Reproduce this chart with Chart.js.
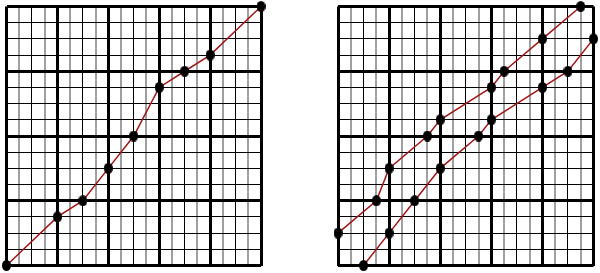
<!DOCTYPE html>
<html>
<head>
<meta charset="utf-8">
<script src="https://cdn.jsdelivr.net/npm/chart.js@4"></script>
<style>
  body { margin: 0; background: #fff; }
  .box { position: absolute; top: 0; width: 300px; height: 273px; }
</style>
</head>
<body>
<div class="box" style="left:0"><canvas id="chart1"></canvas></div>
<div class="box" style="left:300px"><canvas id="chart2"></canvas></div>
<script>
// values
const leftX = [0, 1, 1.5, 2, 2.5, 3, 3.5, 4, 5];
const leftY = [0, 0.75, 1, 1.5, 2, 2.75, 3, 3.25, 4];

const upperX = [0, 0.75, 1, 1.75, 2, 3, 3.25, 4, 4.75];
const upperY = [0.5, 1, 1.5, 2, 2.25, 2.75, 3, 3.5, 4];

const lowerX = [0.5, 1, 1.5, 2, 2.75, 3, 4, 4.5, 5];
const lowerY = [0, 0.5, 1, 1.5, 2, 2.25, 2.75, 3, 3.5];

// oval marker
const dot = document.createElement("canvas");
dot.width = 9;
dot.height = 11;
const dctx = dot.getContext("2d");
dctx.fillStyle = "#000";
dctx.beginPath();
dctx.ellipse(4.5, 5.5, 4.5, 5.5, 0, 0, Math.PI * 2);
dctx.fill();

function pairs(xs, ys) {
  return xs.map((x, i) => ({ x: x, y: ys[i] }));
}

function series(xs, ys) {
  return {
    data: pairs(xs, ys),
    showLine: true,
    borderColor: "#a31515",
    borderWidth: 1.5,
    pointStyle: dot,
    pointRadius: 5,
    clip: false,
  };
}

function isQuarter(v) {
  return !Number.isInteger(v * 2);
}

function gridX(ctx) {
  return isQuarter(ctx.tick.value) ? "#a0a0a0" : "#000";
}

function widthX(ctx) {
  const v = ctx.tick.value;
  if (Number.isInteger(v)) return 3;
  return isQuarter(v) ? 2 : 1;
}

function widthY(ctx) {
  return Number.isInteger(ctx.tick.value) ? 3 : 1;
}

function makeChart(el, datasets, padding) {
  return new Chart(el, {
    type: "scatter",
    data: { datasets: datasets },
    options: {
      responsive: true,
      maintainAspectRatio: false,
      animation: false,
      layout: { padding: padding },
      plugins: {
        legend: { display: false },
        tooltip: { enabled: false },
      },
      scales: {
        x: {
          type: "linear",
          min: 0,
          max: 5,
          ticks: { display: false, stepSize: 0.25 },
          grid: { color: gridX, lineWidth: widthX, drawTicks: false },
          border: { display: false },
        },
        y: {
          type: "linear",
          min: 0,
          max: 4,
          ticks: { display: false, stepSize: 0.25 },
          grid: { color: "#000", lineWidth: widthY, drawTicks: false },
          border: { display: false },
        },
      },
    },
  });
}

makeChart(
  document.getElementById("chart1"),
  [series(leftX, leftY)],
  { left: 5.5, right: 39, top: 6.5, bottom: 7.5 }
);

makeChart(
  document.getElementById("chart2"),
  [series(upperX, upperY), series(lowerX, lowerY)],
  { left: 38, right: 5.5, top: 6.5, bottom: 7.5 }
);
</script>
</body>
</html>
